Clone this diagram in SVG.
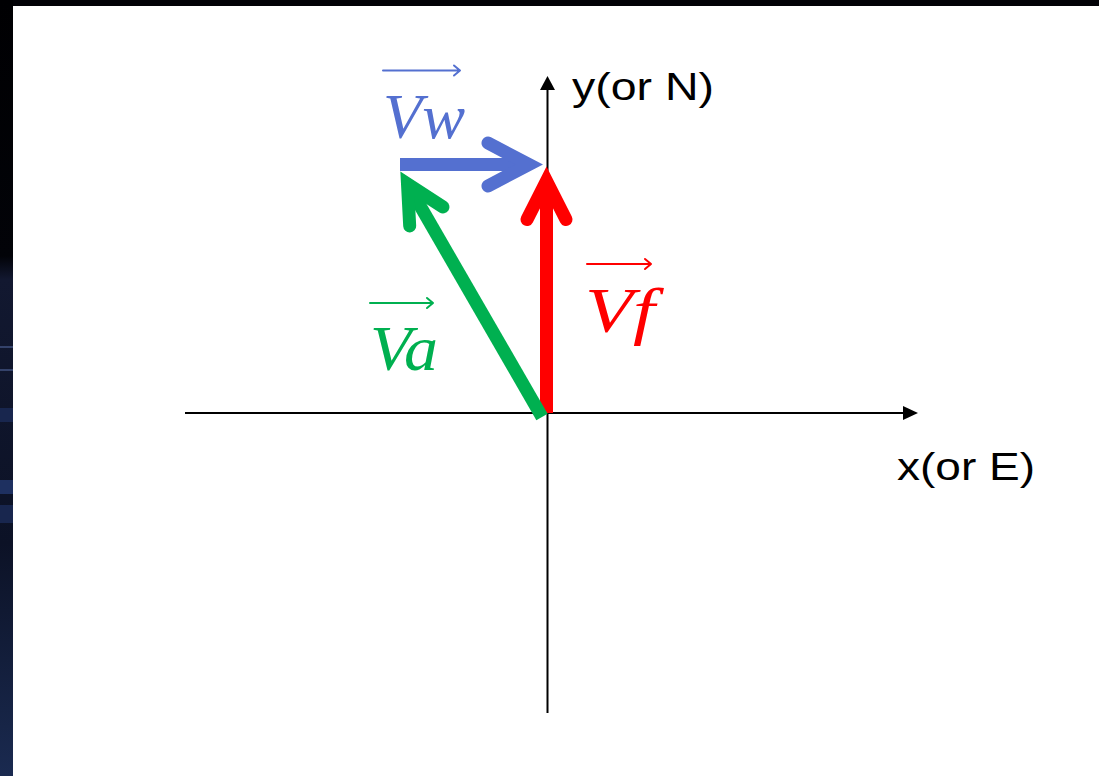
<svg xmlns="http://www.w3.org/2000/svg" width="1099" height="776" viewBox="0 0 1099 776">
<defs>
<linearGradient id="edge" x1="0" y1="0" x2="0" y2="1">
<stop offset="0" stop-color="#000002"/>
<stop offset="0.33" stop-color="#020308"/>
<stop offset="0.36" stop-color="#121830"/>
<stop offset="0.7" stop-color="#0c1226"/>
<stop offset="1" stop-color="#1a2a50"/>
</linearGradient>
<style>
.axis{stroke:#000;stroke-width:2;fill:none}
.head{fill:#000}
.shaft{fill:none;stroke-width:13;stroke-linecap:butt}
.chev{fill:none;stroke-width:13;stroke-linecap:round;stroke-linejoin:miter;stroke-miterlimit:4}
.math{font-family:"Liberation Serif","DejaVu Serif",serif;font-style:italic;font-size:64px}
.lbl{font-family:"Liberation Sans",Arial,sans-serif;font-size:39px;fill:#000}
.vec{fill:none;stroke-width:2;stroke-linecap:round;stroke-linejoin:round}
</style>
</defs>
<rect x="0" y="0" width="1099" height="776" fill="#ffffff"/>
<rect x="0" y="0" width="1099" height="6" fill="#020206"/>
<rect x="0" y="0" width="13" height="776" fill="url(#edge)"/>
<rect x="0" y="346" width="13" height="2" fill="#34426a"/>
<rect x="0" y="369" width="13" height="2" fill="#34426a"/>
<rect x="0" y="408" width="13" height="14" fill="#18264e"/>
<rect x="0" y="480" width="13" height="14" fill="#1e3060"/>
<rect x="0" y="505" width="13" height="18" fill="#18264e"/>

<g id="axes">
<line class="axis" x1="185" y1="413" x2="905" y2="413"/>
<polygon class="head" points="918,413 903,406 903,420"/>
<line class="axis" x1="547.5" y1="713" x2="547.5" y2="88"/>
<polygon class="head" points="547.5,76 540,90 555,90"/>
</g>

<g id="connectors">
<g id="vf" stroke="#ff0000">
<line class="shaft" x1="546.5" y1="413" x2="546.5" y2="181"/>
<path class="chev" d="M527,219.5 L546.5,181 L566,219.5"/>
</g>
<g id="vw" stroke="#5470d0">
<line class="shaft" x1="400" y1="164.5" x2="529" y2="164.5"/>
<path class="chev" d="M488,143 L529,164.5 L488,186"/>
</g>
<g id="va" stroke="#00b050">
<line class="shaft" x1="542" y1="417" x2="407.5" y2="184"/>
<path class="chev" d="M409.7,226 L407.5,184 L443,207"/>
</g>
</g>

<g id="label-vw">
<path class="vec" stroke="#5470d0" d="M383,70.5 H460 M454,65.5 L460,70.5 L454,75.5"/>
<text class="math" fill="#5470d0" x="383" y="138" textLength="82" lengthAdjust="spacingAndGlyphs">Vw</text>
</g>
<g id="label-va">
<path class="vec" stroke="#00b050" d="M370,303 H433 M427,298 L433,303 L427,308"/>
<text class="math" fill="#00b050" x="370" y="370" textLength="68" lengthAdjust="spacingAndGlyphs">Va</text>
</g>
<g id="label-vf">
<path class="vec" stroke="#ff0000" d="M587,264 H651 M645,259 L651,264 L645,269"/>
<text class="math" fill="#ff0000" x="585" y="332" textLength="70" lengthAdjust="spacingAndGlyphs">Vf</text>
</g>
<g id="label-y">
<text class="lbl" x="572" y="100" textLength="142" lengthAdjust="spacingAndGlyphs">y(or N)</text>
</g>
<g id="label-x">
<text class="lbl" x="897" y="480" textLength="138" lengthAdjust="spacingAndGlyphs">x(or E)</text>
</g>
</svg>
